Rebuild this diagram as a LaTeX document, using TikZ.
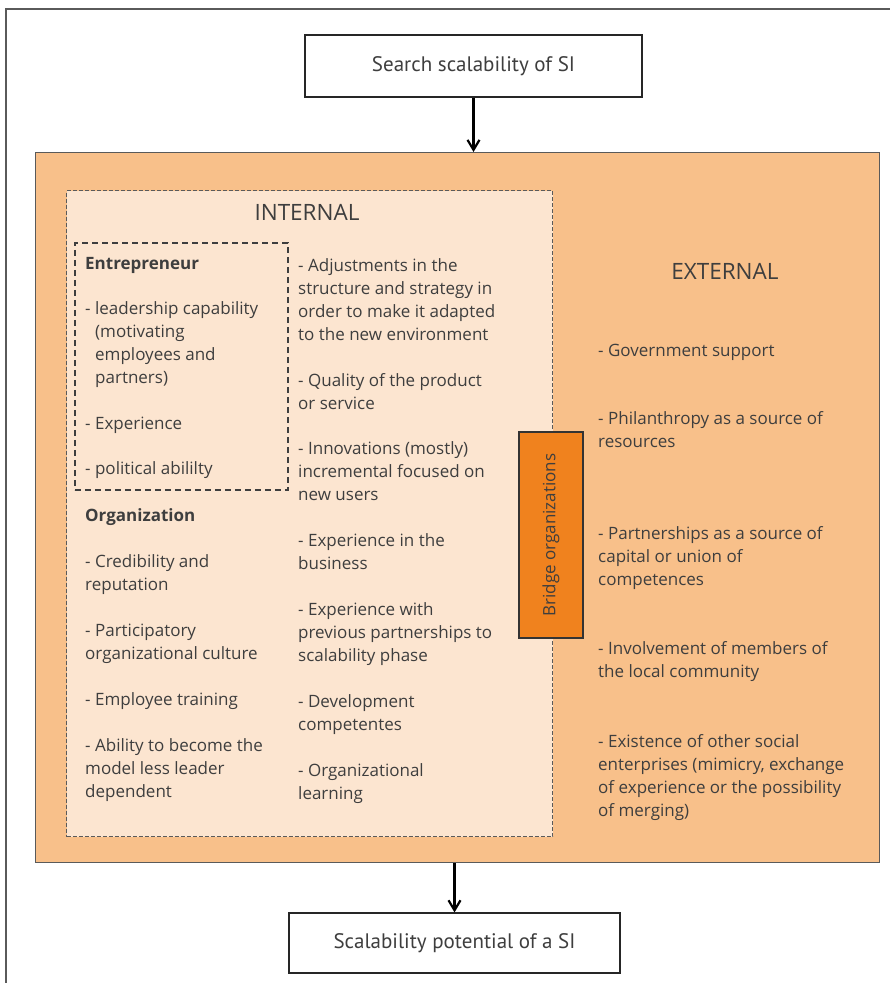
\documentclass[tikz,border=0pt]{standalone}
\usepackage{fontspec}
\setmainfont{Open Sans}
\newfontfamily\boxfont{PT Sans}
\usetikzlibrary{arrows.meta}

\definecolor{outerfill}{RGB}{248,192,138}
\definecolor{innerfill}{RGB}{252,229,208}
\definecolor{bridgefill}{RGB}{240,130,30}
\definecolor{txtgray}{RGB}{62,62,62}
\definecolor{linegray}{RGB}{90,90,90}

\newcommand{\bodyfont}{\fontsize{17}{23}\selectfont}
\newcommand{\lines}[1]{\begin{tabular}[t]{@{}l@{}}#1\end{tabular}}

\tikzset{
  endbox/.style={draw=black!85, line width=1.2pt, fill=white, inner sep=0pt,
    font=\boxfont\fontsize{21}{24}\selectfont, text=txtgray},
  item/.style={anchor=base west, inner sep=0pt, font=\bodyfont, text=txtgray},
  head/.style={item, font=\bodyfont\bfseries},
  title/.style={anchor=base, inner sep=0pt, font=\fontsize{22.5}{26}\selectfont, text=txtgray},
  flow/.style={-{Straight Barb[length=10pt,width=12pt]}, line width=2.2pt},
}

\begin{document}
\begin{tikzpicture}[x=1pt, y=-1pt]
  \useasboundingbox (0,0) rectangle (890,983);
  \fill[white] (0,0) rectangle (890,983);
  \draw[linegray, line width=1.5pt] (6,983) -- (6,9) -- (890,9);

  \node[endbox, minimum width=337pt, minimum height=62pt] (search) at (473.5,66) {Search scalability of SI};
  \node[endbox, minimum width=331pt, minimum height=60pt] (potential) at (454.5,943) {Scalability potential of a SI};

  \node[draw=linegray, line width=1.2pt, fill=outerfill, inner sep=0pt, anchor=north west,
    minimum width=844pt, minimum height=710pt] (factors) at (35,152) {};
  \node[draw=linegray, dash pattern=on 4pt off 2pt, line width=1.3pt, fill=innerfill, inner sep=0pt, anchor=north west,
    minimum width=486pt, minimum height=646pt] (internal) at (66,190) {};
  \node[draw=txtgray, dash pattern=on 6pt off 4pt, line width=1.6pt, inner sep=0pt, anchor=north west,
    minimum width=213pt, minimum height=247pt] (entre) at (74,242) {};
  \node[draw=black!80, line width=1.2pt, fill=bridgefill, inner sep=0pt, rotate=90,
    minimum width=206pt, minimum height=64pt, font=\bodyfont, text=txtgray] (bridge) at (551,535) {Bridge organizations};

  \draw[flow] (search.south) -- (search.south |- factors.north);
  \draw[flow] (potential.north |- factors.south) -- (potential.north);

  \node[title] (inttitle) at (307,220) {INTERNAL};
  \node[title] (exttitle) at (725,279) {EXTERNAL};

  \node[head] (entrehead) at (85,269) {Entrepreneur};
  \node[item] (lead) at (85,314) {\lines{- leadership capability\\\hspace*{10pt}(motivating\\\hspace*{10pt}employees and\\\hspace*{10pt}partners)}};
  \node[item] (exper) at (85,429) {- Experience};
  \node[item] (polit) at (85,474) {- political abililty};

  \node[head] (orghead) at (85,521) {Organization};
  \node[item] (cred) at (85,567) {\lines{- Credibility and\\reputation}};
  \node[item] (partic) at (85,636) {\lines{- Participatory\\organizational culture}};
  \node[item] (train) at (85,705) {- Employee training};
  \node[item] (abil) at (85,751) {\lines{- Ability to become the\\model less leader\\dependent}};

  \node[item] (adjust) at (298,271) {\lines{- Adjustments in the\\structure and strategy in\\order to make it adapted\\to the new environment}};
  \node[item] (qual) at (298,386) {\lines{- Quality of the product\\or service}};
  \node[item] (innov) at (298,454) {\lines{- Innovations (mostly)\\incremental focused on\\new users}};
  \node[item] (busin) at (298,546) {\lines{- Experience in the\\business}};
  \node[item] (prevp) at (298,615) {\lines{- Experience with\\previous partnerships to\\scalability phase}};
  \node[item] (devel) at (298,707) {\lines{- Development\\competentes}};
  \node[item] (learn) at (298,776) {\lines{- Organizational\\learning}};

  \node[item] (gov) at (598,356) {- Government support};
  \node[item] (phil) at (598,424) {\lines{- Philanthropy as a source of\\resources}};
  \node[item] (partn) at (598,539) {\lines{- Partnerships as a source of\\capital or union of\\competences}};
  \node[item] (invol) at (598,654) {\lines{- Involvement of members of\\the local community}};
  \node[item] (exist) at (598,747) {\lines{- Existence of other social\\enterprises (mimicry, exchange\\of experience or the possibility\\of merging)}};
\end{tikzpicture}
\end{document}
